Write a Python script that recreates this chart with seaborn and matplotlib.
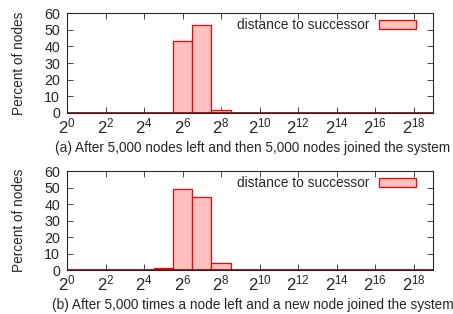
import numpy as np
import pandas as pd
import matplotlib
matplotlib.use("Agg")
import matplotlib.pyplot as plt
import seaborn as sns

# ==================================================
# DATA (percent of nodes per log2 distance bucket)
# ==================================================

exponents = list(range(0, 20))
pct_a = [0, 0, 0, 0, 0, 0, 43, 53, 2, 0, 0, 0, 0, 0, 0, 0, 0, 0, 0, 0]
pct_b = [0, 0, 0, 0, 0, 1, 49, 44, 4, 0, 0, 0, 0, 0, 0, 0, 0, 0, 0, 0]
captions = [
    "(a) After 5,000 nodes left and then 5,000 nodes joined the system",
    "(b) After 5,000 times a node left and a new node joined the system",
]
legend_label = "distance to successor"
xtick_exps = list(range(0, 19, 2))
ytick_vals = list(range(0, 61, 10))

sns.set_style("ticks")
plt.rcParams["font.family"] = ["Liberation Sans", "DejaVu Sans"]
plt.rcParams["mathtext.fontset"] = "custom"
plt.rcParams["mathtext.rm"] = "Liberation Sans"
plt.rcParams["mathtext.it"] = "Liberation Sans"
plt.rcParams["mathtext.bf"] = "Liberation Sans"

fig = plt.figure(figsize=(4.53, 3.14), dpi=100)

# axes positions in figure fractions (left, bottom, width, height)
W, H = 453, 314
boxes = [
    (67 / W, 1 - 113 / H, (433 - 67) / W, (113 - 13) / H),
    (67 / W, 1 - 270 / H, (433 - 67) / W, (270 - 171) / H),
]
caption_base = [152, 309]

for values, caption, box, cy in zip([pct_a, pct_b], captions, boxes, caption_base):
    ax = fig.add_axes(box)
    df = pd.DataFrame({"exp": exponents, "pct": values})
    sns.barplot(
        data=df, x="exp", y="pct", native_scale=True, width=1.0,
        color="#ffc0c0", edgecolor="#ff0000", linewidth=0.9,
        saturation=1, ax=ax, label=legend_label,
    )
    ax.set_xlim(0, 19)
    ax.set_ylim(0, 60)
    ax.set_xticks(xtick_exps)
    ax.set_xticklabels([f"$\\mathregular{{2^{{{e}}}}}$" for e in xtick_exps],
                       fontsize=12)
    ax.set_yticks(ytick_vals)
    ax.tick_params(axis="y", labelsize=10.3, pad=5)
    ax.tick_params(direction="in", top=True, right=True, length=4, width=0.6)
    ax.tick_params(axis="x", pad=2.5)
    ax.set_xlabel("")
    ax.set_ylabel("Percent of nodes", fontsize=9.8, labelpad=13)
    for sp in ax.spines.values():
        sp.set_linewidth(0.8)
    ax.axhline(0, color="#8b0000", lw=1.2, zorder=5)
    ax.legend(
        loc="upper right", bbox_to_anchor=(0.958, 0.96), frameon=False,
        markerfirst=False, fontsize=9.9, handlelength=2.7, handleheight=0.55,
        borderaxespad=0, handletextpad=0.7, borderpad=0.1,
    )
    fig.text(0.5 + 26 / W, 1 - cy / H, caption, ha="center", va="baseline",
             fontsize=9.8)

fig.savefig("out.png", dpi=100)
